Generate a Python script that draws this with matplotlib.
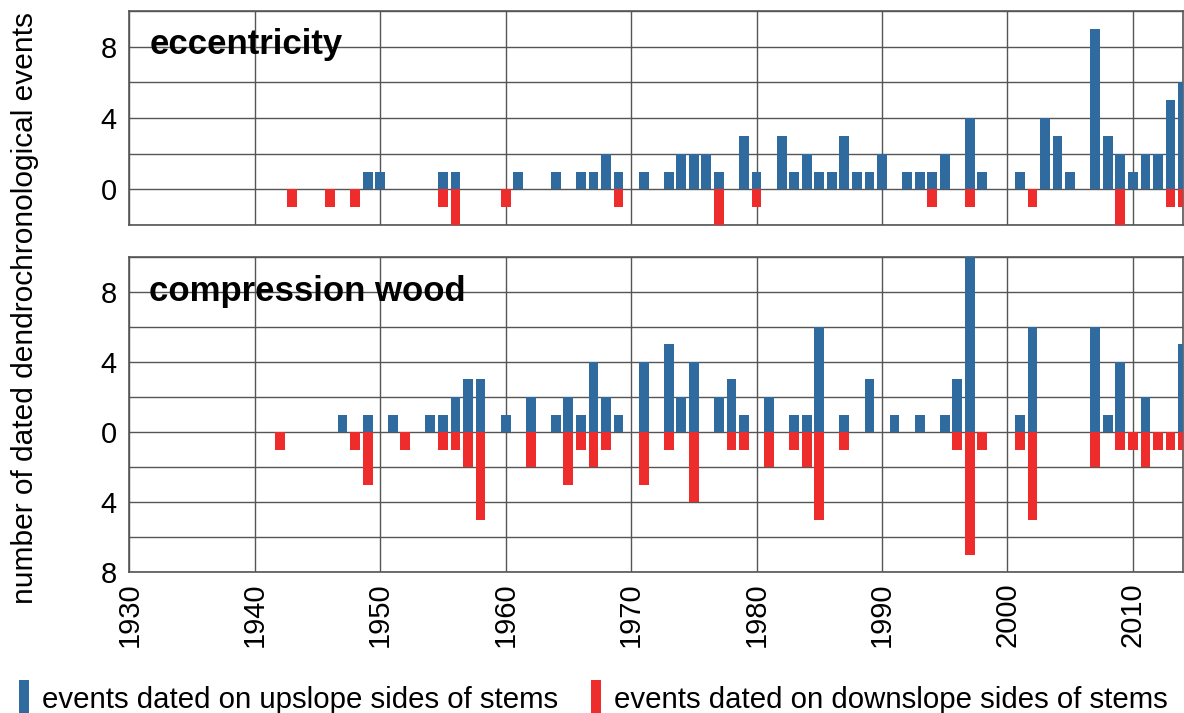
"""
Dated dendrochronological events per year, eccentricity vs compression wood.
"""
import matplotlib.pyplot as plt

plt.rcParams["font.family"] = ["Liberation Sans", "DejaVu Sans"]

# eccentricity: upslope (positive) and downslope (negative) events
ecc_up_years = [1949, 1950, 1955, 1956, 1961, 1964, 1966, 1967, 1968, 1969,
                1971, 1973, 1974, 1975, 1976, 1977, 1979, 1980, 1982, 1983,
                1984, 1985, 1986, 1987, 1988, 1989, 1990, 1992, 1993, 1994,
                1995, 1997, 1998, 2001, 2003, 2004, 2005, 2007, 2008, 2009,
                2010, 2011, 2012, 2013, 2014]
ecc_up_counts = [1, 1, 1, 1, 1, 1, 1, 1, 2, 1,
                 1, 1, 2, 2, 2, 1, 3, 1, 3, 1,
                 2, 1, 1, 3, 1, 1, 2, 1, 1, 1,
                 2, 4, 1, 1, 4, 3, 1, 9, 3, 2,
                 1, 2, 2, 5, 6]
ecc_down_years = [1943, 1946, 1948, 1955, 1956, 1960, 1969, 1977, 1980, 1994,
                  1997, 2002, 2009, 2013, 2014]
ecc_down_counts = [1, 1, 1, 1, 2, 1, 1, 2, 1, 1,
                   1, 1, 2, 1, 1]

# compression wood
cw_up_years = [1947, 1949, 1951, 1954, 1955, 1956, 1957, 1958, 1960, 1962,
               1964, 1965, 1966, 1967, 1968, 1969, 1971, 1973, 1974, 1975,
               1977, 1978, 1979, 1981, 1983, 1984, 1985, 1987, 1989, 1991,
               1993, 1995, 1996, 1997, 2001, 2002, 2007, 2008, 2009, 2011,
               2014]
cw_up_counts = [1, 1, 1, 1, 1, 2, 3, 3, 1, 2,
                1, 2, 1, 4, 2, 1, 4, 5, 2, 4,
                2, 3, 1, 2, 1, 1, 6, 1, 3, 1,
                1, 1, 3, 10, 1, 6, 6, 1, 4, 2,
                5]
cw_down_years = [1942, 1948, 1949, 1952, 1955, 1956, 1957, 1958, 1962, 1965,
                 1966, 1967, 1968, 1971, 1973, 1975, 1978, 1979, 1981, 1983,
                 1984, 1985, 1987, 1996, 1997, 1998, 2001, 2002, 2007, 2009,
                 2010, 2011, 2012, 2013, 2014]
cw_down_counts = [1, 1, 3, 1, 1, 1, 2, 5, 2, 3,
                  1, 2, 1, 3, 1, 4, 1, 1, 2, 1,
                  2, 5, 1, 1, 7, 1, 1, 5, 2, 1,
                  1, 2, 1, 1, 1]

decades = list(range(1930, 2011, 10))

BLUE = "#2f6b9f"
RED = "#ee2c2c"
GRID = "#555555"


def draw_panel(ax, up_years, up_counts, down_years, down_counts,
               ymin, major, title, title_y):
    up = ax.bar(up_years, up_counts, width=0.78, color=BLUE, zorder=3,
                label="events dated on upslope sides of stems")
    down = ax.bar(down_years, [-c for c in down_counts], width=0.78,
                  color=RED, zorder=3,
                  label="events dated on downslope sides of stems")

    ax.set_xlim(1930, 2014)
    ax.set_ylim(ymin, 10)
    ax.set_xticks(decades)
    ax.set_yticks(major)
    ax.set_yticklabels([str(abs(v)) for v in major])
    ax.set_yticks(range(ymin, 11, 2), minor=True)
    ax.grid(True, axis="x", which="major", color=GRID, lw=1.0)
    ax.grid(True, axis="y", which="both", color=GRID, lw=1.0)
    ax.set_axisbelow(True)
    ax.tick_params(which="both", length=0, pad=9, labelsize=21)

    for sp in ax.spines.values():
        sp.set_color(GRID)
        sp.set_linewidth(1.2)

    ax.text(0.019, title_y, title, transform=ax.get_yaxis_transform(),
            fontsize=25, fontweight="bold", va="baseline", zorder=5)
    return up, down


fig = plt.figure(figsize=(11.84, 7.13), dpi=100)
ax_top = fig.add_axes([0.1092, 0.6844, 0.8900, 0.3002])
ax_bot = fig.add_axes([0.1092, 0.1973, 0.8900, 0.4427])

up, down = draw_panel(ax_top, ecc_up_years, ecc_up_counts,
                      ecc_down_years, ecc_down_counts,
                      -2, [0, 4, 8], "eccentricity", 7.6)
draw_panel(ax_bot, cw_up_years, cw_up_counts,
           cw_down_years, cw_down_counts,
           -8, [-8, -4, 0, 4, 8], "compression wood", 7.5)

ax_top.tick_params(labelbottom=False)
ax_bot.tick_params(axis="x", pad=7)
for lbl in ax_bot.get_xticklabels():
    lbl.set_rotation(90)

fig.text(0.021, 0.568, "number of dated dendrochronological events",
         rotation=90, ha="center", va="center", fontsize=21.5)

fig.legend(handles=[up, down], loc="lower left", bbox_to_anchor=(0.016, -0.004),
           ncol=2, frameon=False, fontsize=21.2, handlelength=0.34,
           handleheight=1.5, handletextpad=0.45, columnspacing=1.1,
           borderpad=0, borderaxespad=0)

fig.savefig("out.png", dpi=100)
plt.close(fig)
